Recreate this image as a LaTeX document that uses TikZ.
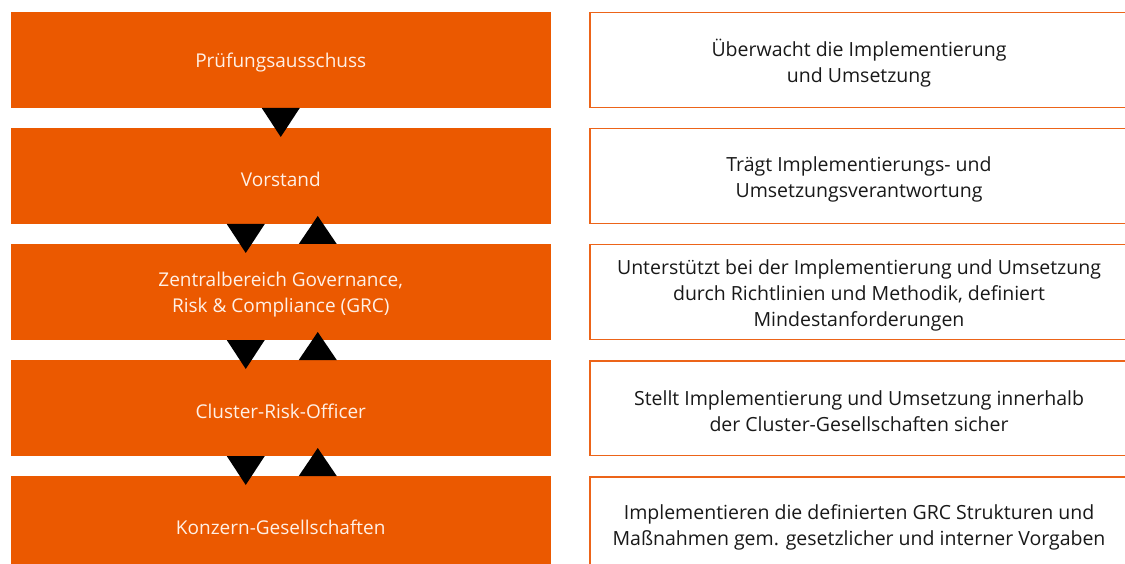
\documentclass[tikz,border=0pt]{standalone}
\usepackage{fontspec}
\setmainfont{Open Sans}
\usetikzlibrary{calc}
\definecolor{gorange}{RGB}{235,89,0}
\definecolor{gborder}{RGB}{236,100,25}
\definecolor{gtext}{RGB}{255,240,230}
\definecolor{rtext}{RGB}{25,25,25}
\begin{document}
\begin{tikzpicture}[x=1pt,y=-1pt,
  lbox/.style={fill=gorange, draw=none, minimum width=540.5pt, minimum height=96pt,
    inner sep=0pt, outer sep=0pt, anchor=north west},
  rbox/.style={draw=gborder, line width=1.5pt, fill=white, minimum width=538pt,
    minimum height=94.7pt, inner sep=0pt, outer sep=0pt, anchor=north west},
  ltext/.style={text=gtext, align=center, inner sep=0pt, font=\fontsize{19}{26}\selectfont},
  rtext/.style={text=rtext, align=center, inner sep=0pt, font=\fontsize{19.5}{26}\selectfont},
  tri/.style={fill=black}]
\useasboundingbox (0,0) rectangle (1125,564);
\clip (0,0) rectangle (1125,564);
\fill[white] (0,0) rectangle (1125,564);
% left column
\node[lbox] (l1) at (10.5,12) {};
\node[lbox] (l2) at (10.5,128) {};
\node[lbox] (l3) at (10.5,244) {};
\node[lbox] (l4) at (10.5,360) {};
\node[lbox] (l5) at (10.5,476) {};
\node[ltext] (l1t) at ([yshift=-3pt]l1.center) {Prüfungsausschuss};
\node[ltext] (l2t) at ([yshift=-3pt]l2.center) {Vorstand};
\node[ltext] (l3t) at ([yshift=-3pt]l3.center) {Zentralbereich Governance,\\Risk \& Compliance (GRC)};
\node[ltext] (l4t) at ([yshift=-3pt]l4.center) {Cluster-Risk-Officer};
\node[ltext] (l5t) at ([yshift=-3pt]l5.center) {Konzern-Gesellschaften};
% right column
\node[rbox] (r1) at (590,12.75) {};
\node[rbox] (r2) at (590,128.75) {};
\node[rbox] (r3) at (590,244.75) {};
\node[rbox] (r4) at (590,360.75) {};
\node[rbox] (r5) at (590,476.75) {};
\node[rtext] (r1t) at ([yshift=-3pt]r1.center) {Überwacht die Implementierung\\und Umsetzung};
\node[rtext] (r2t) at ([yshift=-3pt]r2.center) {Trägt Implementierungs- und\\Umsetzungsverantwortung};
\node[rtext] (r3t) at ([yshift=-3pt]r3.center) {Unterstützt bei der Implementierung und Umsetzung\\durch Richtlinien und Methodik, definiert\\Mindestanforderungen};
\node[rtext] (r4t) at ([yshift=-3pt]r4.center) {Stellt Implementierung und Umsetzung innerhalb\\der Cluster-Gesellschaften sicher};
\node[rtext] (r5t) at ([yshift=-3.5pt]r5.center) {Implementieren die definierten GRC Strukturen und\\Maßnahmen gem. gesetzlicher und interner Vorgaben};
% triangles
\fill[tri] ($(l1.south)+(-19,0)$) -- ($(l1.south)+(19,0)$) -- ($(l1.south)+(0,29)$) -- cycle;
\foreach \a/\b in {l2/l3, l3/l4, l4/l5}{
  \fill[tri] ($(\a.south)+(-54,0)$) -- ($(\a.south)+(-16,0)$) -- ($(\a.south)+(-35,29)$) -- cycle;
  \fill[tri] ($(\b.north)+(18,0)$) -- ($(\b.north)+(56,0)$) -- ($(\b.north)+(37,-28)$) -- cycle;
}
\end{tikzpicture}
\end{document}
